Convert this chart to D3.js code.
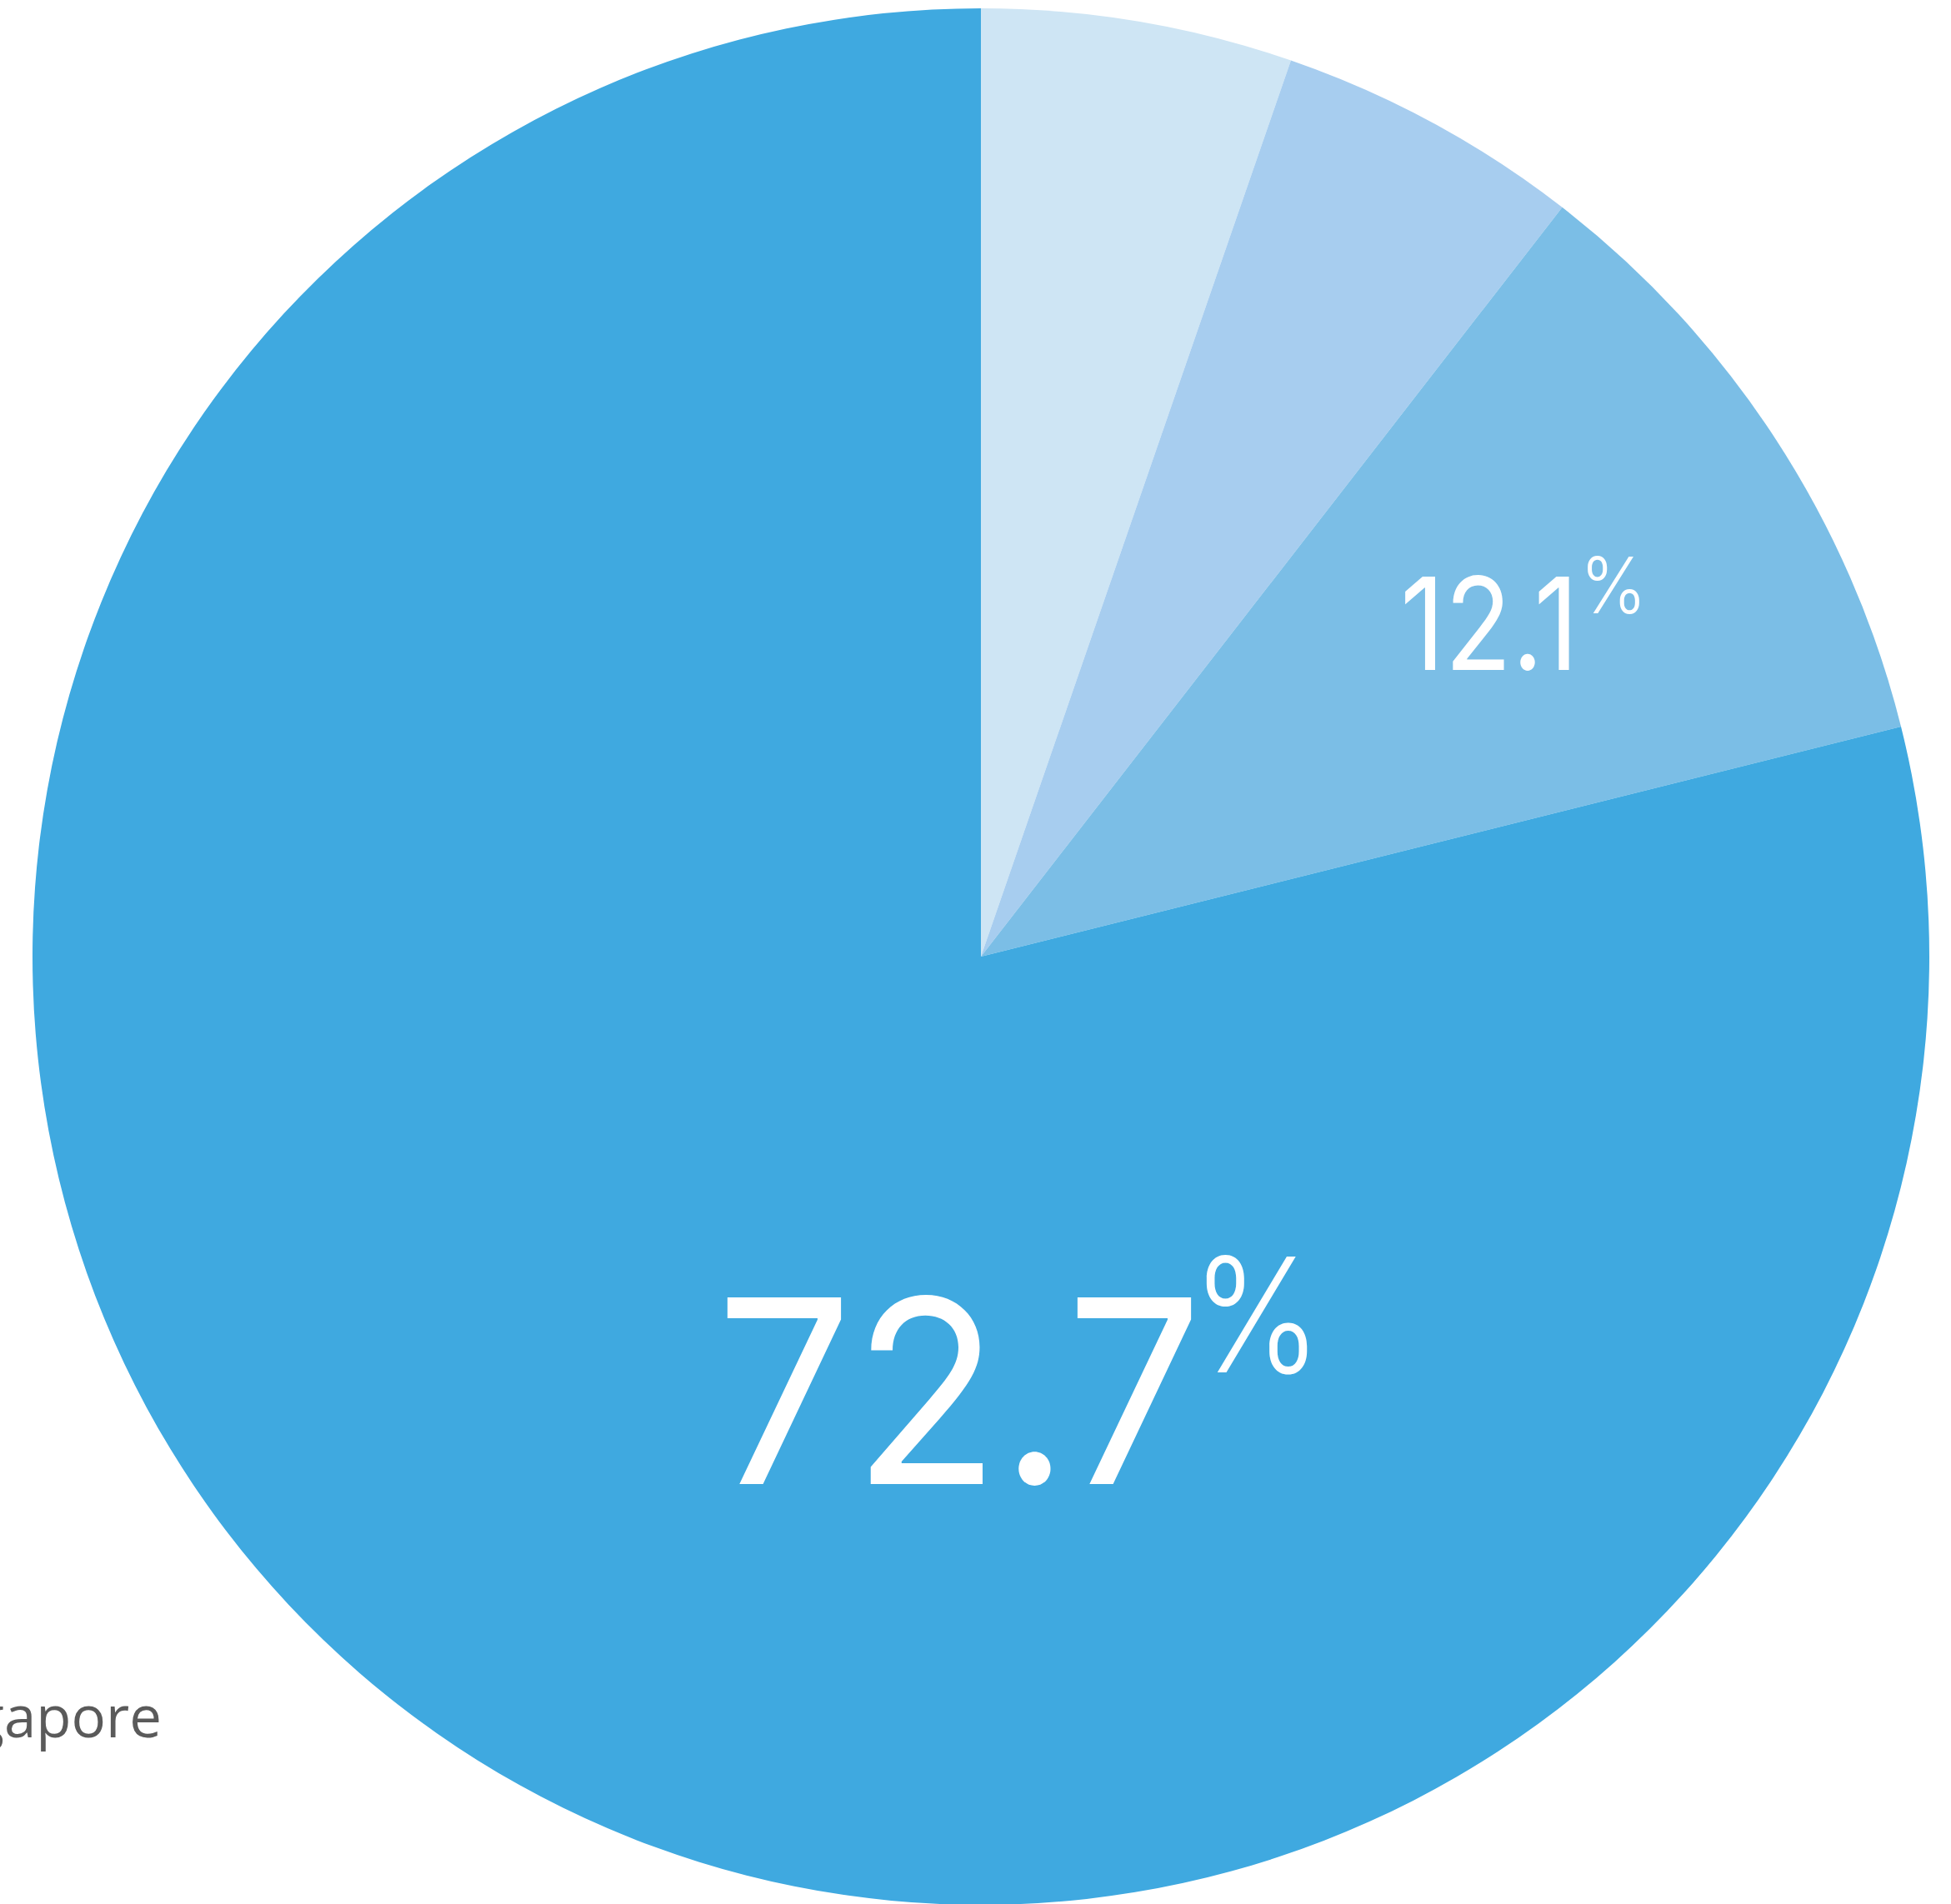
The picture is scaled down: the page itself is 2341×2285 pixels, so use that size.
<!DOCTYPE html>
<html>
<head>
<meta charset="utf-8">
<script src="https://cdn.jsdelivr.net/npm/d3@7"></script>
<style>
  html, body { margin: 0; padding: 0; background: #ffffff; }
  svg { display: block; }
</style>
</head>
<body>
<svg id="chart" width="2341" height="2285"></svg>
<script>
// ---- data (shares, clockwise from 12 o'clock) ----
const categories = ["Other A", "Other B", "Other C", "Singapore"];
const shares = [5.3, 5.2, 10.6, 78.9];
const sliceColors = ["#CEE5F4", "#A7CDEF", "#7BBEE6", "#3FA9E0"];
const labelTexts = ["", "", "12.1", "72.7"];

// ---- layout ----
const W = 2341, H = 2285;
const cx = 1177, cy = 1148, R = 1138;

const svg = d3.select("#chart");

const data = categories.map((c, i) => ({ name: c, value: shares[i], color: sliceColors[i], label: labelTexts[i] }));

const pie = d3.pie().sort(null).value(d => d.value).startAngle(0).endAngle(2 * Math.PI);
const arc = d3.arc().innerRadius(0).outerRadius(R);

const g = svg.append("g").attr("transform", `translate(${cx},${cy})`);

g.selectAll("path.slice")
  .data(pie(data))
  .join("path")
  .attr("class", "slice")
  .attr("d", arc)
  .attr("fill", d => d.data.color);

// ---- value labels (number + superscript %) ----
const labelLayout = {
  "12.1": { x: 503, y: -344, size: 154, len: 214, pctX: 719, pctY: -412, pctSize: 93, pctLen: 80, weight: 400 },
  "72.7": { x: -318, y: 633, size: 308, len: 584, pctX: 253, pctY: 499, pctSize: 191, pctLen: 156, weight: 400 }
};

const font = "Inter, Roboto, 'Noto Sans', sans-serif";

data.forEach(d => {
  if (!d.label) return;
  const L = labelLayout[d.label];
  const t = g.append("text")
    .attr("font-family", font)
    .attr("fill", "#ffffff");
  t.append("tspan")
    .attr("x", L.x).attr("y", L.y)
    .attr("font-size", L.size)
    .attr("font-weight", L.weight)
    .attr("textLength", L.len)
    .attr("lengthAdjust", "spacingAndGlyphs")
    .text(d.label);
  t.append("tspan")
    .attr("x", L.pctX).attr("y", L.pctY)
    .attr("font-size", L.pctSize)
    .attr("font-weight", 300)
    .attr("textLength", L.pctLen)
    .attr("lengthAdjust", "spacingAndGlyphs")
    .text("%");
});

// ---- clipped category label at the left edge ----
svg.append("text")
  .attr("x", 194).attr("y", 2085)
  .attr("text-anchor", "end")
  .attr("font-family", "'Open Sans', 'Noto Sans', sans-serif")
  .attr("font-size", 69)
  .attr("font-weight", 400)
  .attr("fill", "#5a5a5a")
  .text("Singapore");
</script>
</body>
</html>
